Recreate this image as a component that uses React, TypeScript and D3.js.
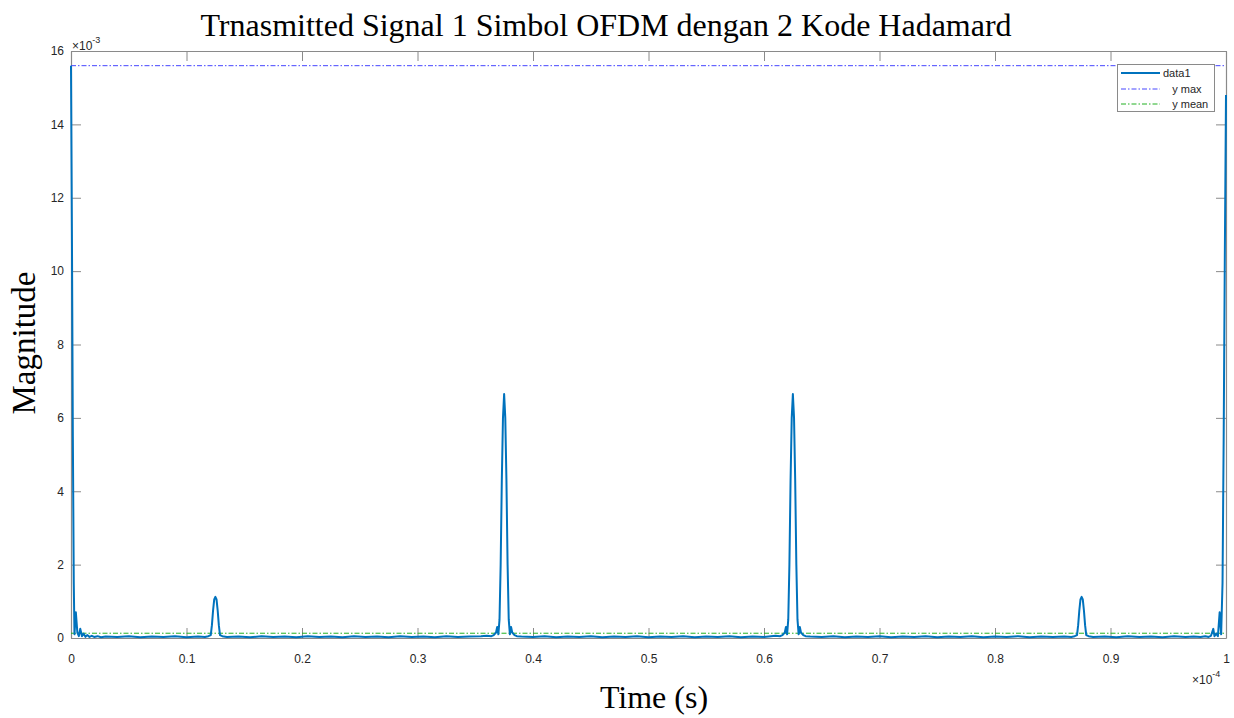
import React, { useEffect, useRef } from 'react';
import * as d3 from 'd3';

const titleText = 'Trnasmitted Signal 1 Simbol OFDM dengan 2 Kode Hadamard';
const xLabelText = 'Time (s)';
const yLabelText = 'Magnitude';
const xTicks = [0, 0.1, 0.2, 0.3, 0.4, 0.5, 0.6, 0.7, 0.8, 0.9, 1];
const yTicks = [0, 2, 4, 6, 8, 10, 12, 14, 16];
const legendNames = ['data1', '   y max', '   y mean'];

// time in units of 1e-4 s, magnitude in units of 1e-3
const timeE4 = [
  0, 0.0008, 0.0016, 0.0024, 0.003, 0.0042, 0.0055, 0.0068, 0.008, 0.0095, 0.011, 0.0125, 0.014, 0.016, 0.018, 0.02, 0.023, 0.026, 0.03,
  0.04, 0.05, 0.06, 0.07, 0.08, 0.09, 0.1, 0.11, 0.116,
  0.119, 0.121, 0.122, 0.123, 0.124, 0.125, 0.126, 0.127, 0.128, 0.129, 0.131,
  0.135, 0.145, 0.155, 0.165, 0.175, 0.185, 0.195, 0.205, 0.215, 0.225, 0.235, 0.245, 0.255, 0.265, 0.275, 0.285, 0.295, 0.305, 0.315, 0.325, 0.335, 0.345, 0.355, 0.36,
  0.364, 0.366, 0.368, 0.369, 0.370, 0.371, 0.372, 0.373, 0.374, 0.375, 0.376, 0.377, 0.378, 0.379, 0.380, 0.381, 0.382, 0.384, 0.386,
  0.39, 0.40, 0.41, 0.42, 0.43, 0.44, 0.45, 0.46, 0.47, 0.48, 0.49, 0.50, 0.51, 0.52, 0.53, 0.54, 0.55, 0.56, 0.57, 0.58, 0.59, 0.60, 0.61,
  0.614, 0.616, 0.618, 0.619, 0.620, 0.621, 0.622, 0.623, 0.624, 0.625, 0.626, 0.627, 0.628, 0.629, 0.630, 0.631, 0.632, 0.634, 0.636,
  0.64, 0.65, 0.66, 0.67, 0.68, 0.69, 0.70, 0.71, 0.72, 0.73, 0.74, 0.75, 0.76, 0.77, 0.78, 0.79, 0.80, 0.81, 0.82, 0.83, 0.84, 0.85, 0.86, 0.866,
  0.869, 0.871, 0.872, 0.873, 0.874, 0.875, 0.876, 0.877, 0.878, 0.879, 0.881,
  0.885, 0.895, 0.905, 0.915, 0.925, 0.935, 0.945, 0.955, 0.965, 0.972, 0.978, 0.982,
  0.985, 0.987, 0.989, 0.990, 0.9915, 0.993, 0.9945, 0.9958, 0.997, 0.998, 0.999, 1.0,
];
const magE3 = [
  15.6, 11.0, 5.5, 1.5, 0.1, 0.7, 0.15, 0.05, 0.25, 0.05, 0.12, 0.03, 0.08, 0.03, 0.06, 0.03, 0.05, 0.02, 0.04,
  0.03, 0.05, 0.02, 0.04, 0.03, 0.05, 0.02, 0.04, 0.03,
  0.05, 0.08, 0.35, 0.75, 1.05, 1.12, 1.05, 0.75, 0.35, 0.08, 0.05,
  0.03, 0.04, 0.02, 0.05, 0.03, 0.04, 0.02, 0.05, 0.03, 0.04, 0.02, 0.05, 0.03, 0.04, 0.02, 0.05, 0.03, 0.04, 0.02, 0.05, 0.03, 0.04, 0.05, 0.06,
  0.05, 0.08, 0.15, 0.3, 0.1, 0.5, 2.0, 4.3, 6.0, 6.65, 6.0, 4.3, 2.0, 0.5, 0.1, 0.3, 0.15, 0.08, 0.05,
  0.04, 0.03, 0.05, 0.02, 0.04, 0.03, 0.05, 0.02, 0.04, 0.03, 0.05, 0.02, 0.04, 0.03, 0.05, 0.02, 0.04, 0.03, 0.05, 0.02, 0.04, 0.03, 0.06,
  0.05, 0.08, 0.15, 0.3, 0.1, 0.5, 2.0, 4.3, 6.0, 6.65, 6.0, 4.3, 2.0, 0.5, 0.1, 0.3, 0.15, 0.08, 0.05,
  0.04, 0.03, 0.05, 0.02, 0.04, 0.03, 0.05, 0.02, 0.04, 0.03, 0.05, 0.02, 0.04, 0.03, 0.05, 0.02, 0.04, 0.03, 0.05, 0.02, 0.04, 0.03, 0.04, 0.03,
  0.05, 0.08, 0.35, 0.75, 1.05, 1.12, 1.05, 0.75, 0.35, 0.08, 0.05,
  0.03, 0.04, 0.02, 0.05, 0.03, 0.04, 0.02, 0.05, 0.03, 0.04, 0.03, 0.05,
  0.03, 0.06, 0.25, 0.05, 0.12, 0.05, 0.7, 0.1, 1.5, 5.5, 10.5, 14.8,
];
const yMaxValue = 15.6;
const yMeanValue = 0.13;

const W = 1234;
const H = 718;
const plot = { left: 71, right: 1226, top: 51, bottom: 638 };

const LINE_COLOR = '#0072BD';
const MAX_COLOR = '#4646ff';
const MEAN_COLOR = '#22b022';
const AXIS_COLOR = '#8a8a8a';
const TEXT_COLOR = '#262626';
const DASH = '5,2,1.5,2';
const SANS = '"Liberation Sans", Arial, sans-serif';
const SERIF = '"Liberation Serif", "Times New Roman", serif';

export default function App() {
  const ref = useRef<SVGSVGElement | null>(null);

  useEffect(() => {
    const svg = d3.select(ref.current);
    svg.selectAll('*').remove();

    const x = d3.scaleLinear().domain([0, 1]).range([plot.left, plot.right]);
    const y = d3.scaleLinear().domain([0, 16]).range([plot.bottom, plot.top]);

    svg.append('rect').attr('width', W).attr('height', H).attr('fill', '#ffffff');

    const styleAxis = (g: any) => {
      g.selectAll('.domain').attr('stroke', AXIS_COLOR).attr('stroke-width', 1.2).attr('fill', 'none');
      g.selectAll('.tick line').attr('stroke', AXIS_COLOR).attr('stroke-width', 1);
      g.selectAll('.tick text').attr('fill', TEXT_COLOR).attr('font-size', 12).attr('font-family', SANS);
    };

    svg.append('g')
      .attr('transform', `translate(0,${plot.bottom})`)
      .call(d3.axisBottom(x).tickValues(xTicks).tickSizeInner(-10).tickSizeOuter(0).tickPadding(16).tickFormat(d3.format('~g') as any))
      .call(styleAxis);
    svg.append('g')
      .attr('transform', `translate(0,${plot.top})`)
      .call(d3.axisTop(x).tickValues(xTicks).tickSizeInner(-10).tickSizeOuter(0).tickFormat(() => ''))
      .call(styleAxis);
    svg.append('g')
      .attr('transform', `translate(${plot.left},0)`)
      .call(d3.axisLeft(y).tickValues(yTicks).tickSizeInner(-10).tickSizeOuter(0).tickPadding(7).tickFormat(d3.format('~g') as any))
      .call(styleAxis);
    svg.append('g')
      .attr('transform', `translate(${plot.right},0)`)
      .call(d3.axisRight(y).tickValues(yTicks).tickSizeInner(-10).tickSizeOuter(0).tickFormat(() => ''))
      .call(styleAxis);

    svg.append('line')
      .attr('x1', x(0)).attr('x2', x(1)).attr('y1', y(yMaxValue)).attr('y2', y(yMaxValue))
      .attr('stroke', MAX_COLOR).attr('stroke-width', 1).attr('stroke-dasharray', DASH);
    svg.append('line')
      .attr('x1', x(0)).attr('x2', x(1)).attr('y1', y(yMeanValue)).attr('y2', y(yMeanValue))
      .attr('stroke', MEAN_COLOR).attr('stroke-width', 1).attr('stroke-dasharray', DASH);

    const pts: [number, number][] = timeE4.map((t, i) => [t, magE3[i]]);
    const line = d3.line<[number, number]>().x(d => x(d[0])).y(d => y(d[1]));
    svg.append('path')
      .datum(pts)
      .attr('d', line)
      .attr('fill', 'none')
      .attr('stroke', LINE_COLOR)
      .attr('stroke-width', 2)
      .attr('stroke-linejoin', 'round');

    const e3 = svg.append('text').attr('x', plot.left + 1).attr('y', 50)
      .attr('font-family', SANS).attr('font-size', 12).attr('fill', TEXT_COLOR);
    e3.append('tspan').text('\u00d710');
    e3.append('tspan').attr('dy', -7).attr('font-size', 9).text('-3');

    const e4 = svg.append('text').attr('x', 1192).attr('y', 684)
      .attr('font-family', SANS).attr('font-size', 12).attr('fill', TEXT_COLOR);
    e4.append('tspan').text('\u00d710');
    e4.append('tspan').attr('dy', -7).attr('font-size', 9).text('-4');

    const lg = svg.append('g');
    lg.append('rect').attr('x', 1117.5).attr('y', 64.5).attr('width', 97).attr('height', 47)
      .attr('fill', '#ffffff').attr('stroke', AXIS_COLOR).attr('stroke-width', 1);
    const rowY = [73, 89, 104];
    const styles = [
      { color: LINE_COLOR, width: 2, dash: null },
      { color: MAX_COLOR, width: 1, dash: DASH },
      { color: MEAN_COLOR, width: 1, dash: DASH },
    ];
    legendNames.forEach((name, i) => {
      const l = lg.append('line').attr('x1', 1121).attr('x2', 1160).attr('y1', rowY[i]).attr('y2', rowY[i])
        .attr('stroke', styles[i].color).attr('stroke-width', styles[i].width);
      if (styles[i].dash) l.attr('stroke-dasharray', styles[i].dash as string);
      lg.append('text').attr('x', 1163).attr('y', rowY[i]).attr('dy', '0.35em')
        .attr('font-family', SANS).attr('font-size', 11).attr('fill', TEXT_COLOR)
        .style('white-space', 'pre').text(name);
    });

    svg.append('text').attr('x', 606).attr('y', 36).attr('text-anchor', 'middle')
      .attr('font-family', SERIF).attr('font-size', 32).attr('fill', '#000').text(titleText);
    svg.append('text').attr('x', 654).attr('y', 708).attr('text-anchor', 'middle')
      .attr('font-family', SERIF).attr('font-size', 32).attr('fill', '#000').text(xLabelText);
    svg.append('text').attr('transform', `translate(35,343) rotate(-90)`).attr('text-anchor', 'middle')
      .attr('font-family', SERIF).attr('font-size', 33).attr('fill', '#000').text(yLabelText);
  }, []);

  return (
    <svg ref={ref} width={W} height={H} style={{ position: 'absolute', left: 0, top: 0, display: 'block' }} />
  );
}
